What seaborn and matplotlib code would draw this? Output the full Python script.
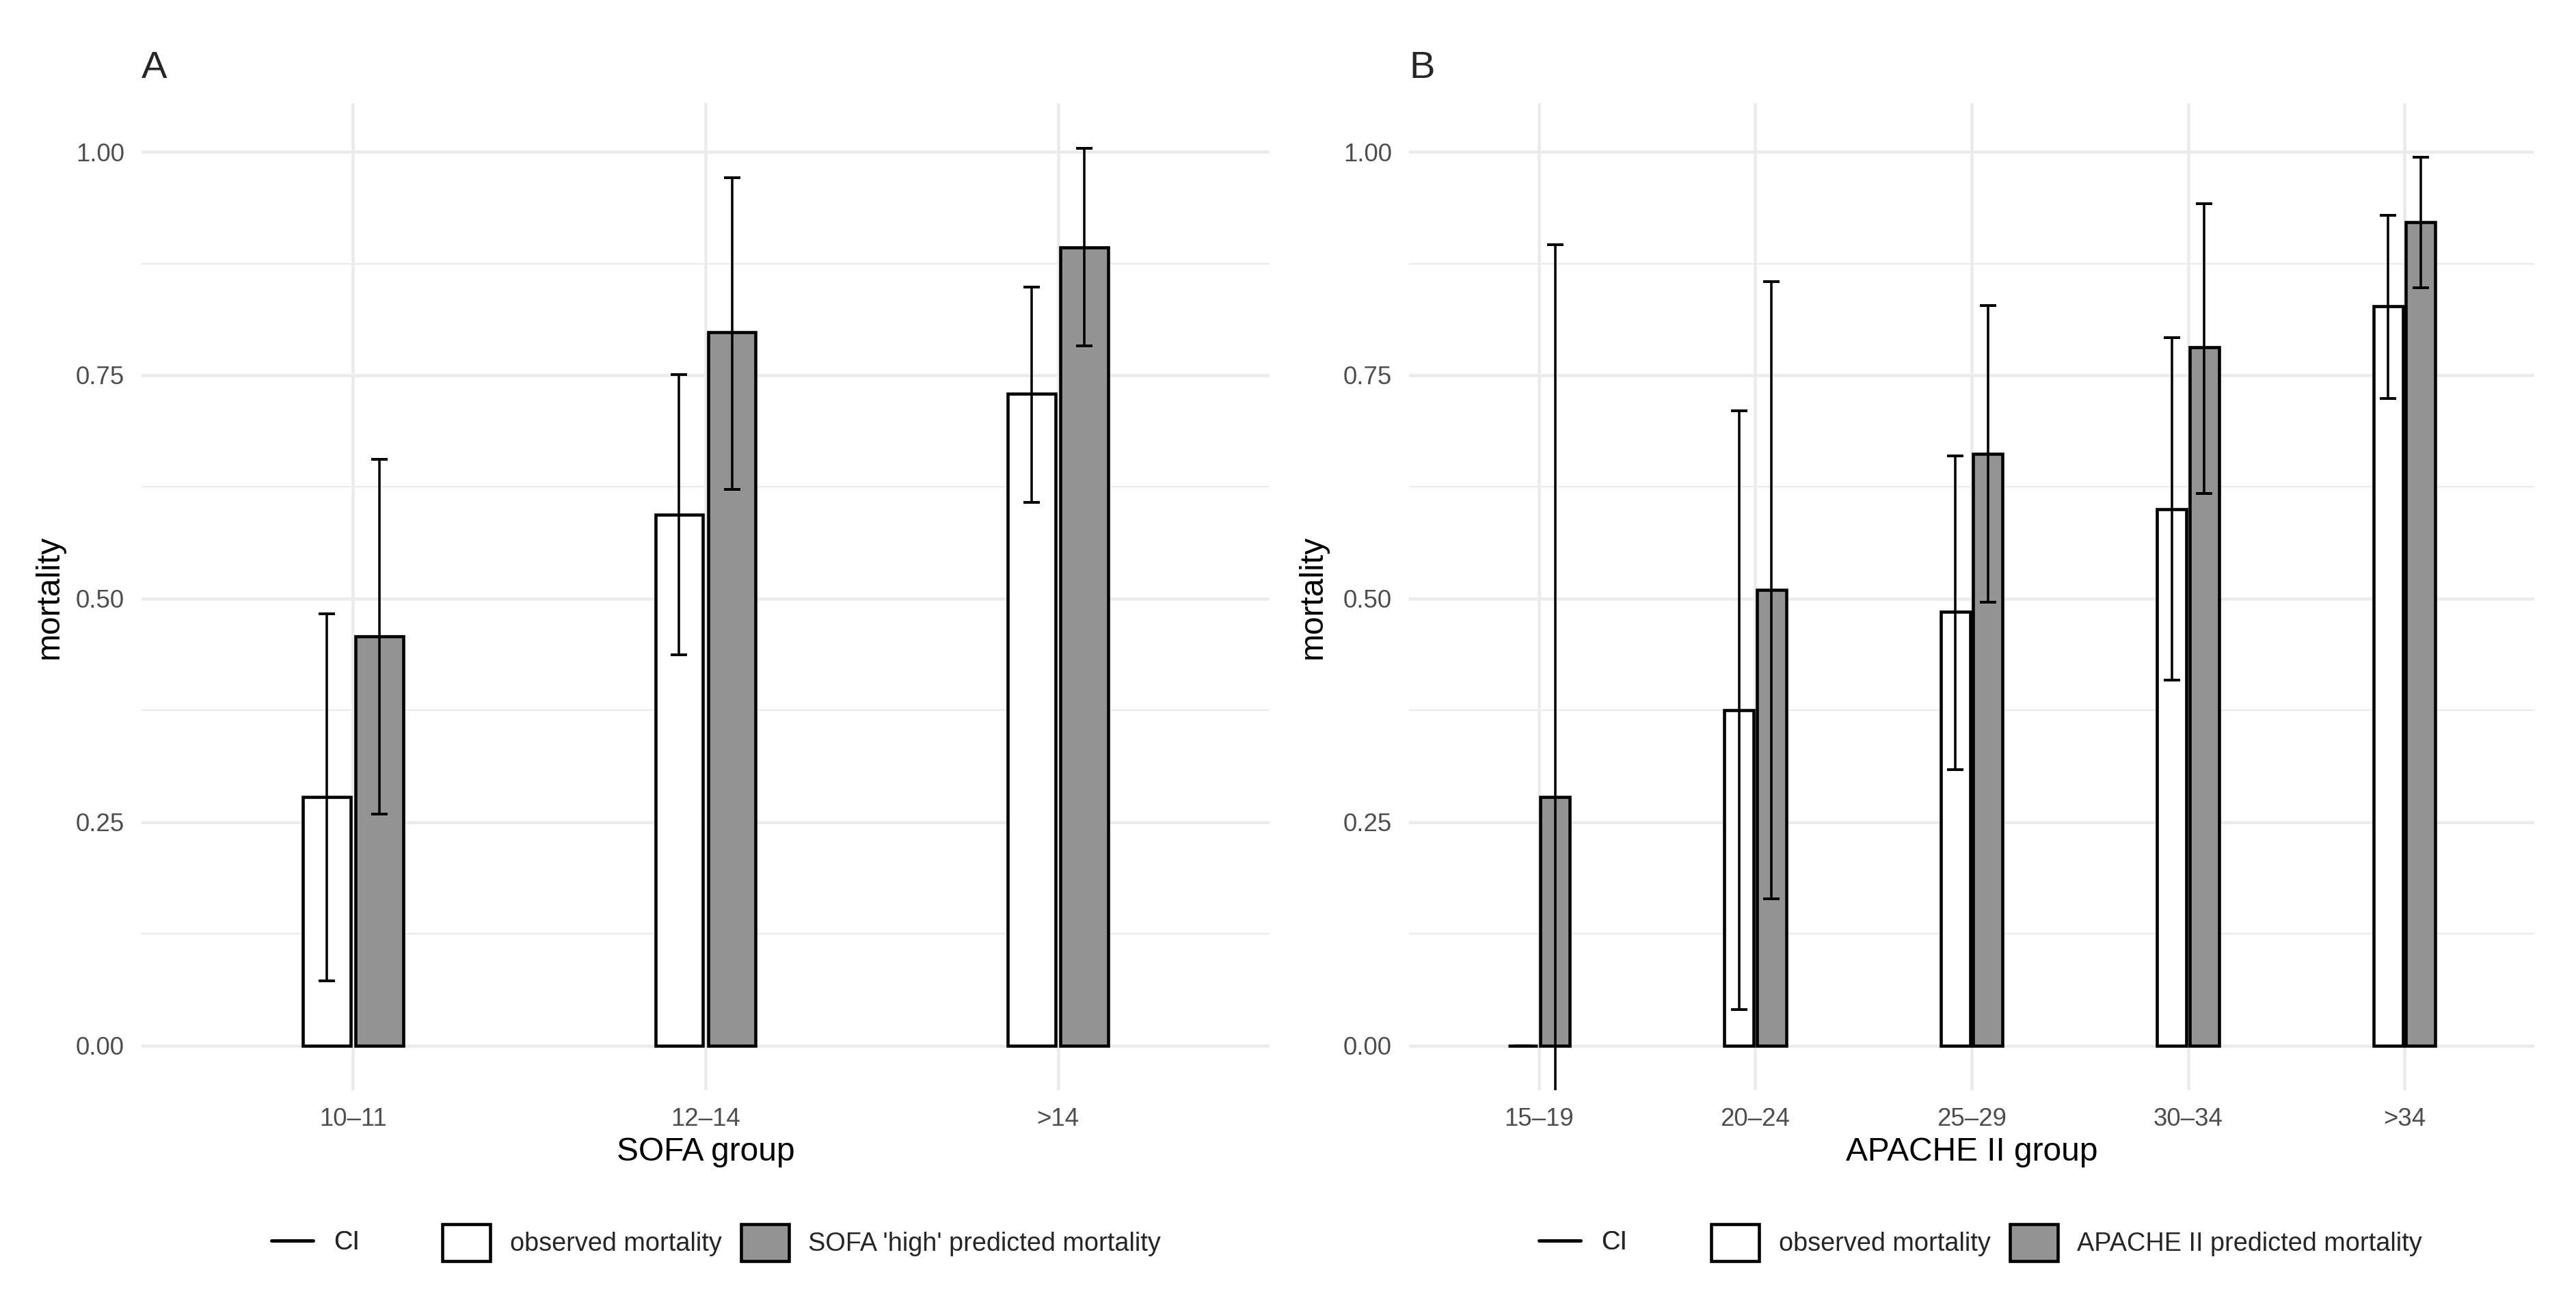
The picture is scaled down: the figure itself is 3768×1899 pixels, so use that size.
import numpy as np
import pandas as pd
import matplotlib
matplotlib.use("Agg")
import matplotlib.pyplot as plt
from matplotlib.lines import Line2D
from matplotlib.patches import Patch
from matplotlib.ticker import MultipleLocator
import seaborn as sns

# ─── Data ───────────────────────────────────────────────────────────────────
sofa_groups = ["10–11", "12–14", ">14"]
sofa_obs = [0.278, 0.594, 0.729]
sofa_obs_lo = [0.072, 0.437, 0.608]
sofa_obs_hi = [0.483, 0.751, 0.849]
sofa_pred = [0.458, 0.798, 0.893]
sofa_pred_lo = [0.259, 0.622, 0.783]
sofa_pred_hi = [0.656, 0.971, 1.004]

apache_groups = ["15–19", "20–24", "25–29", "30–34", ">34"]
apache_obs = [0.0, 0.375, 0.485, 0.600, 0.827]
apache_obs_lo = [0.0, 0.040, 0.309, 0.409, 0.724]
apache_obs_hi = [0.0, 0.710, 0.660, 0.792, 0.929]
apache_pred = [0.278, 0.510, 0.662, 0.781, 0.921]
apache_pred_lo = [-0.34, 0.164, 0.496, 0.618, 0.848]
apache_pred_hi = [0.896, 0.855, 0.828, 0.942, 0.994]

OBS = "observed mortality"
GREY = "#939393"
GRID = "#EBEBEB"

sns.set_theme(style="white")
plt.rcParams["font.family"] = ["Liberation Sans", "DejaVu Sans"]

fig = plt.figure(figsize=(12.56, 6.33), dpi=300)
W, H = 3768, 1899


def panel(left_px, right_px, groups, obs, obs_lo, obs_hi, pred, pred_lo, pred_hi,
          pred_name, xlabel, letter, ylab_x, leg_ci_px, leg_fill_px):
    top_px, bot_px = 151.5, 1595
    ax = fig.add_axes([left_px / W, 1 - bot_px / H, (right_px - left_px) / W, (bot_px - top_px) / H])
    df = pd.DataFrame({
        "group": groups * 2,
        "value": list(obs) + list(pred),
        "type": [OBS] * len(groups) + [pred_name] * len(groups),
    })
    sns.barplot(data=df, x="group", y="value", hue="type", order=groups,
                hue_order=[OBS, pred_name], palette={OBS: "white", pred_name: GREY},
                edgecolor="black", linewidth=1.1, width=0.3, gap=0.1,
                errorbar=None, legend=False, ax=ax, zorder=2)

    for cont, vals, lo, hi in [(ax.containers[0], obs, obs_lo, obs_hi),
                               (ax.containers[1], pred, pred_lo, pred_hi)]:
        xs = [p.get_x() + p.get_width() / 2 for p in cont.patches]
        v = np.array(vals)
        ax.errorbar(xs, v, yerr=[v - np.array(lo), np.array(hi) - v], fmt="none",
                    ecolor="black", elinewidth=0.85, capsize=2.8, capthick=0.95, zorder=3)

    ax.set_xlim(-0.6, len(groups) - 0.4)
    ax.set_ylim(-0.05, 1.054)
    ax.yaxis.set_major_locator(MultipleLocator(0.25))
    ax.yaxis.set_minor_locator(MultipleLocator(0.125))
    ax.set_yticklabels([f"{t:.2f}" for t in ax.get_yticks()])
    ax.set_axisbelow(True)
    ax.grid(True, which="major", color=GRID, linewidth=1.1)
    ax.grid(True, which="minor", axis="y", color=GRID, linewidth=0.55)
    for sp in ax.spines.values():
        sp.set_visible(False)
    ax.tick_params(which="both", length=0, labelsize=8.8, labelcolor="#4D4D4D")
    ax.tick_params(axis="y", pad=6)
    ax.tick_params(axis="x", pad=6)

    ax.set_xlabel(xlabel, fontsize=11.5, color="black")
    ax.xaxis.set_label_coords(0.5, -(1686 - bot_px) / (bot_px - top_px))
    ax.xaxis.label.set_va("center")
    ax.set_ylabel("mortality", fontsize=11.5, color="black")
    ax.yaxis.set_label_coords((ylab_x - left_px) / (right_px - left_px), 0.5)
    ax.yaxis.label.set_va("center")

    fig.text(left_px / W, 1 - 100 / H, letter, fontsize=13.5, ha="left", va="center")

    # legends (ggplot draws CI and fill as separate guides)
    leg_y = 1 - 1818 / H
    ci = fig.legend([Line2D([], [], color="black", linewidth=1.1)], ["CI"],
                    loc="center left", bbox_to_anchor=(leg_ci_px / W, leg_y),
                    frameon=False, fontsize=9.1, handlelength=1.6, handletextpad=0.8,
                    borderpad=0, borderaxespad=0)
    fig.add_artist(ci)
    handles = [Patch(facecolor="white", edgecolor="black", linewidth=1.1),
               Patch(facecolor=GREY, edgecolor="black", linewidth=1.1)]
    fig.legend(handles, [OBS, pred_name], loc="center left",
               bbox_to_anchor=(leg_fill_px / W, leg_y), frameon=False, fontsize=9.1,
               ncol=2, handlelength=1.85, handleheight=1.85, handletextpad=0.75,
               columnspacing=0.75, borderpad=0, borderaxespad=0)
    return ax


panel(207, 1857, sofa_groups, sofa_obs, sofa_obs_lo, sofa_obs_hi,
      sofa_pred, sofa_pred_lo, sofa_pred_hi, "SOFA 'high' predicted mortality",
      "SOFA group", "A", 72, 397, 647)
panel(2061, 3707, apache_groups, apache_obs, apache_obs_lo, apache_obs_hi,
      apache_pred, apache_pred_lo, apache_pred_hi, "APACHE II predicted mortality",
      "APACHE II group", "B", 1920, 2251, 2503)

fig.savefig("out.png", dpi=300, facecolor="white")
